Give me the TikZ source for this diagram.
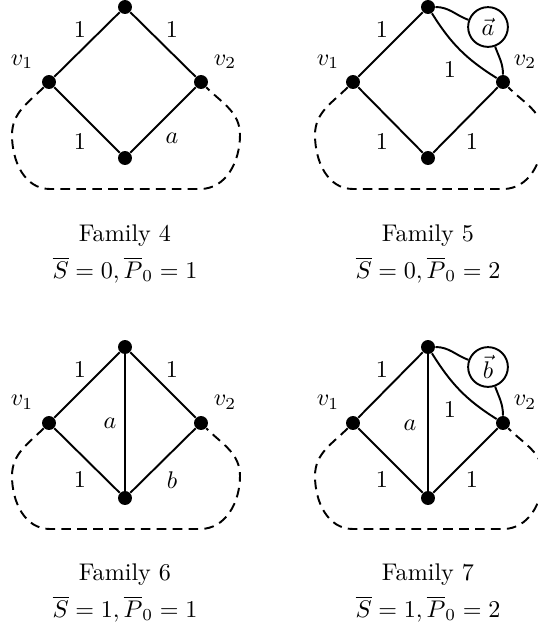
\documentclass[tikz,border=0pt]{standalone}
\begin{document}
\begin{tikzpicture}[x=0.415pt,y=-0.415pt,
  vtx/.style={circle,fill,inner sep=0pt,minimum size=5.8pt},
  edge/.style={line width=0.8pt},
  dashloop/.style={line width=0.8pt,dash pattern=on 4pt off 2.6pt},
  ring/.style={circle,draw,line width=0.8pt,inner sep=0pt,minimum size=16.5pt},
  lbl/.style={inner sep=1pt}]
\useasboundingbox (0,0) rectangle (538,633);
\clip (0,0) rectangle (538,633);
% ---------- Family 4 ----------
\begin{scope}[shift={(125,7)}]
  \node[vtx] (t4) at (0,0) {};
  \node[vtx] (l4) at (-76,75) {};
  \node[vtx] (r4) at (76,75) {};
  \node[vtx] (b4) at (0,151) {};
  \draw[edge] (t4) -- (l4) -- (b4) -- (r4) -- (t4);
  \draw[dashloop] (l4) to[out=225,in=90] (-113,128) to[out=-90,in=180] (-75,182) -- (75,182) to[out=0,in=-90] (115,128) to[out=90,in=-45] (r4);
  \node[lbl] (e41) at (-45,23) {$1$};
  \node[lbl] (e42) at (47,23) {$1$};
  \node[lbl] (e43) at (-45,135) {$1$};
  \node[lbl] (e44) at (47,131) {$a$};
  \node[lbl] (v41) at (-103,55) {$v_1$};
  \node[lbl] (v42) at (100,55) {$v_2$};
  \node (f4) at (0,229) {Family 4};
  \node (g4) at (0,263) {$\overline{S}=0,\overline{P}_0=1$};
\end{scope}
% ---------- Family 5 ----------
\begin{scope}[shift={(428,7)}]
  \node[vtx] (t5) at (0,0) {};
  \node[vtx] (l5) at (-75,75) {};
  \node[vtx] (r5) at (75,75) {};
  \node[vtx] (b5) at (0,151) {};
  \node[ring] (c5) at (60,20) {$\vec{a}$};
  \draw[edge] (t5) -- (l5) -- (b5) -- (r5);
  \draw[edge] (t5) to[out=-58,in=148] (r5);
  \draw[edge] (t5) to[out=0,in=160] (c5);
  \draw[edge] (c5) to[out=-70,in=90] (r5);
  \draw[dashloop] (l5) to[out=225,in=90] (-113,128) to[out=-90,in=180] (-75,182) -- (75,182) to[out=0,in=-90] (115,128) to[out=90,in=-45] (r5);
  \node[lbl] (e51) at (-46,23) {$1$};
  \node[lbl] (e52) at (22,63) {$1$};
  \node[lbl] (e53) at (-46,135) {$1$};
  \node[lbl] (e54) at (44,135) {$1$};
  \node[lbl] (v51) at (-100,55) {$v_1$};
  \node[lbl] (v52) at (97,55) {$v_2$};
  \node (f5) at (0,229) {Family 5};
  \node (g5) at (0,263) {$\overline{S}=0,\overline{P}_0=2$};
\end{scope}
% ---------- Family 6 ----------
\begin{scope}[shift={(125,347)}]
  \node[vtx] (t6) at (0,0) {};
  \node[vtx] (l6) at (-76,76) {};
  \node[vtx] (r6) at (76,76) {};
  \node[vtx] (b6) at (0,151) {};
  \draw[edge] (t6) -- (l6) -- (b6) -- (r6) -- (t6);
  \draw[edge] (t6) -- (b6);
  \draw[dashloop] (l6) to[out=225,in=90] (-113,129) to[out=-90,in=180] (-75,182) -- (75,182) to[out=0,in=-90] (115,129) to[out=90,in=-45] (r6);
  \node[lbl] (e61) at (-45,23) {$1$};
  \node[lbl] (e62) at (47,23) {$1$};
  \node[lbl] (e63) at (-45,133) {$1$};
  \node[lbl] (e64) at (47,133) {$b$};
  \node[lbl] (e65) at (-15,76) {$a$};
  \node[lbl] (v61) at (-103,55) {$v_1$};
  \node[lbl] (v62) at (100,55) {$v_2$};
  \node (f6) at (0,228) {Family 6};
  \node (g6) at (0,262) {$\overline{S}=1,\overline{P}_0=1$};
\end{scope}
% ---------- Family 7 ----------
\begin{scope}[shift={(428,347)}]
  \node[vtx] (t7) at (0,0) {};
  \node[vtx] (l7) at (-75,76) {};
  \node[vtx] (r7) at (75,76) {};
  \node[vtx] (b7) at (0,151) {};
  \node[ring] (c7) at (60,20) {$\vec{b}$};
  \draw[edge] (t7) -- (l7) -- (b7) -- (r7);
  \draw[edge] (t7) -- (b7);
  \draw[edge] (t7) to[out=-58,in=148] (r7);
  \draw[edge] (t7) to[out=0,in=160] (c7);
  \draw[edge] (c7) to[out=-70,in=90] (r7);
  \draw[dashloop] (l7) to[out=225,in=90] (-113,129) to[out=-90,in=180] (-75,182) -- (75,182) to[out=0,in=-90] (115,129) to[out=90,in=-45] (r7);
  \node[lbl] (e71) at (-46,23) {$1$};
  \node[lbl] (e72) at (22,63) {$1$};
  \node[lbl] (e73) at (-46,133) {$1$};
  \node[lbl] (e74) at (44,133) {$1$};
  \node[lbl] (e75) at (-18,78) {$a$};
  \node[lbl] (v71) at (-100,55) {$v_1$};
  \node[lbl] (v72) at (97,55) {$v_2$};
  \node (f7) at (0,228) {Family 7};
  \node (g7) at (0,262) {$\overline{S}=1,\overline{P}_0=2$};
\end{scope}
\end{tikzpicture}
\end{document}
